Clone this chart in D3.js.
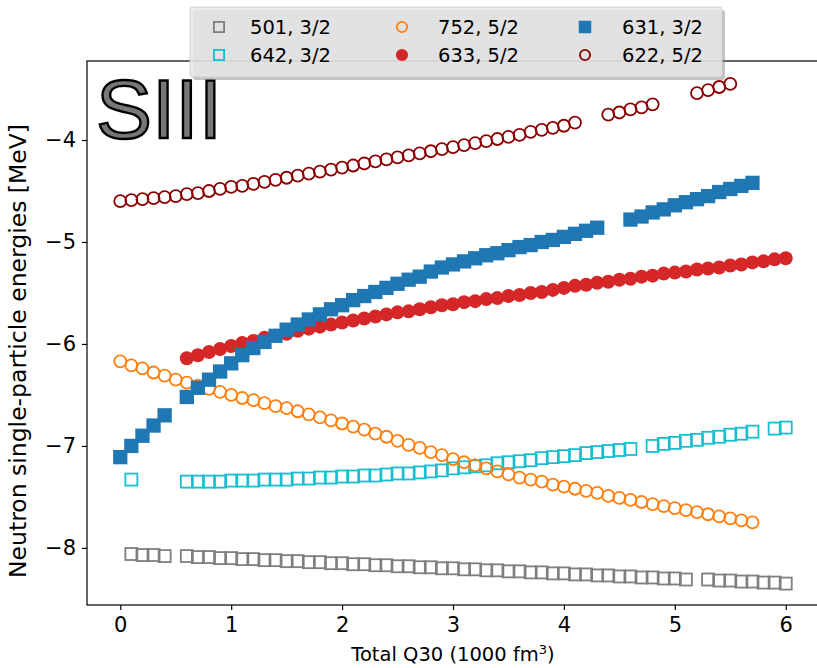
<!DOCTYPE html>
<html>
<head>
<meta charset="utf-8">
<script src="https://cdn.jsdelivr.net/npm/d3@7"></script>
<style>
  body { margin: 0; background: #fff; }
  svg { display: block; font-family: "DejaVu Sans", sans-serif; }
</style>
</head>
<body>
<div id="chart"></div>
<script>
// x grid: total Q30 in units of 1000 fm^3
const q30 = [0.0, 0.1, 0.2, 0.3, 0.4, 0.5, 0.6, 0.7, 0.8, 0.9,
    1.0, 1.1, 1.2, 1.3, 1.4, 1.5, 1.6, 1.7, 1.8, 1.9,
    2.0, 2.1, 2.2, 2.3, 2.4, 2.5, 2.6, 2.7, 2.8, 2.9,
    3.0, 3.1, 3.2, 3.3, 3.4, 3.5, 3.6, 3.7, 3.8, 3.9,
    4.0, 4.1, 4.2, 4.3, 4.4, 4.5, 4.6, 4.7, 4.8, 4.9,
    5.0, 5.1, 5.2, 5.3, 5.4, 5.5, 5.6, 5.7, 5.8, 5.9, 6.0];

// neutron levels (MeV), null = no point
const e501 = [null, -8.06, -8.07, -8.07, -8.08, null, -8.08, -8.09, -8.09, -8.10,
    -8.10, -8.11, -8.11, -8.12, -8.12, -8.13, -8.13, -8.14, -8.14, -8.15,
    -8.15, -8.16, -8.16, -8.17, -8.17, -8.18, -8.18, -8.19, -8.19, -8.20,
    -8.20, -8.21, -8.21, -8.22, -8.22, -8.23, -8.23, -8.24, -8.24, -8.25,
    -8.25, -8.26, -8.26, -8.27, -8.27, -8.28, -8.28, -8.29, -8.29, -8.30,
    -8.30, -8.31, null, -8.31, -8.32, -8.32, -8.33, -8.33, -8.34, -8.34, -8.35];
const e642 = [null, -7.33, null, null, null, null, -7.35, -7.35, -7.35, -7.35,
    -7.34, -7.34, -7.34, -7.33, -7.33, -7.33, -7.32, -7.32, -7.31, -7.31,
    -7.30, -7.30, -7.29, -7.29, -7.28, -7.27, -7.27, -7.26, -7.25, -7.24,
    -7.22, -7.21, -7.20, -7.19, -7.17, -7.16, -7.15, -7.14, -7.12, -7.11,
    -7.10, -7.09, -7.07, -7.06, -7.05, -7.04, -7.03, null, -7.00, -6.98,
    -6.97, -6.95, -6.94, -6.92, -6.91, -6.89, -6.88, -6.86, null, -6.83, -6.82];
const e752 = [-6.17, -6.21, -6.24, -6.28, -6.31, -6.35, -6.38, -6.41, -6.44, -6.47,
    -6.50, -6.53, -6.55, -6.58, -6.61, -6.63, -6.66, -6.69, -6.72, -6.75,
    -6.78, -6.81, -6.84, -6.88, -6.91, -6.95, -6.99, -7.02, -7.06, -7.09,
    -7.13, -7.16, -7.19, -7.22, -7.25, -7.28, -7.31, -7.33, -7.35, -7.38,
    -7.40, -7.42, -7.44, -7.46, -7.49, -7.51, -7.53, -7.55, -7.57, -7.59,
    -7.61, -7.63, -7.65, -7.67, -7.69, -7.71, -7.73, -7.75, null, null, null];
const e633 = [null, null, null, null, null, null, -6.14, -6.11, -6.08, -6.05,
    -6.02, -5.99, -5.97, -5.94, -5.92, -5.90, -5.87, -5.85, -5.83, -5.81,
    -5.79, -5.77, -5.75, -5.73, -5.71, -5.69, -5.68, -5.66, -5.64, -5.62,
    -5.61, -5.59, -5.58, -5.56, -5.55, -5.53, -5.52, -5.50, -5.49, -5.47,
    -5.45, -5.43, -5.42, -5.40, -5.39, -5.37, -5.36, -5.34, -5.33, -5.31,
    -5.30, -5.29, -5.27, -5.26, -5.25, -5.23, -5.22, -5.20, -5.19, -5.17, -5.16];
const e631 = [-7.11, -7.00, -6.90, -6.80, -6.70, null, -6.52, -6.43, -6.35, -6.27,
    -6.19, -6.11, -6.04, -5.98, -5.92, -5.86, -5.81, -5.76, -5.71, -5.66,
    -5.62, -5.57, -5.53, -5.49, -5.45, -5.41, -5.37, -5.34, -5.29, -5.25,
    -5.22, -5.19, -5.16, -5.13, -5.11, -5.08, -5.05, -5.03, -5.00, -4.98,
    -4.95, -4.92, -4.89, -4.86, null, null, -4.78, -4.75, -4.71, -4.68,
    -4.64, -4.61, -4.58, -4.55, -4.51, -4.48, -4.45, -4.42, null, null, null];
const e622 = [-4.60, -4.59, -4.58, -4.57, -4.56, -4.55, -4.53, -4.52, -4.50, -4.48,
    -4.46, -4.45, -4.43, -4.41, -4.39, -4.37, -4.35, -4.33, -4.31, -4.29,
    -4.27, -4.25, -4.23, -4.21, -4.19, -4.17, -4.15, -4.13, -4.11, -4.09,
    -4.07, -4.05, -4.03, -4.01, -3.99, -3.97, -3.95, -3.92, -3.90, -3.88,
    -3.86, -3.83, null, null, -3.75, -3.73, -3.70, -3.68, -3.65, null,
    null, null, -3.54, -3.51, -3.48, -3.45, null, null, null, null, null];

const labels = ["501, 3/2", "642, 3/2", "752, 5/2", "633, 5/2", "631, 3/2", "622, 5/2"];
const xTicks = [0, 1, 2, 3, 4, 5, 6];
const yTicks = [-8, -7, -6, -5, -4];

// series in plotting order (legend fills column by column)
const series = [
    { label: labels[0], values: e501, shape: "square", color: "#7f7f7f", filled: false },
    { label: labels[1], values: e642, shape: "square", color: "#17becf", filled: false },
    { label: labels[2], values: e752, shape: "circle", color: "#ff7f0e", filled: false },
    { label: labels[3], values: e633, shape: "circle", color: "#d62728", filled: true },
    { label: labels[4], values: e631, shape: "square", color: "#1f77b4", filled: true },
    { label: labels[5], values: e622, shape: "circle", color: "#8b0000", filled: false }
];

const width = 817, height = 668;
const plot = { left: 87, right: 819, top: 61, bottom: 605 };

const svg = d3.select("#chart").append("svg")
    .attr("width", width)
    .attr("height", height);

const x = d3.scaleLinear().domain([-0.3, 6.3]).range([plot.left, plot.right]);
const y = d3.scaleLinear().domain([-8.56, -3.225]).range([plot.bottom, plot.top]);

const clipId = "plotclip";
svg.append("clipPath").attr("id", clipId)
    .append("rect")
    .attr("x", plot.left).attr("y", plot.top)
    .attr("width", plot.right - plot.left).attr("height", plot.bottom - plot.top);

// draw a marker into a selection
function marker(g, d, size) {
    const sw = d.filled ? 0 : 1.8;
    if (d.shape === "square") {
        const s = d.filled ? size + 1.5 : size - 0.8;
        g.append("rect")
            .attr("x", -s / 2).attr("y", -s / 2)
            .attr("width", s).attr("height", s)
            .attr("fill", d.filled ? d.color : "none")
            .attr("stroke", d.color)
            .attr("stroke-width", sw);
    } else {
        const r = d.filled ? size / 2 + 0.6 : size / 2 - 0.4;
        g.append("circle")
            .attr("r", r)
            .attr("fill", d.filled ? d.color : "none")
            .attr("stroke", d.color)
            .attr("stroke-width", sw);
    }
}

// SIII label
svg.append("text")
    .attr("x", 96)
    .attr("y", 138)
    .attr("font-family", "Liberation Sans, Arial, sans-serif")
    .attr("font-size", 84)
    .attr("fill", "#777")
    .attr("stroke", "#000")
    .attr("stroke-width", 2.4)
    .text("SIII");

// points
const pts = svg.append("g").attr("clip-path", `url(#${clipId})`);
series.forEach(s => {
    const gs = pts.append("g");
    q30.forEach((q, i) => {
        const v = s.values[i];
        if (v === null) return;
        const g = gs.append("g").attr("transform", `translate(${x(q)},${y(v)})`);
        marker(g, s, 12.8);
    });
});

// axes
const xAxis = svg.append("g")
    .attr("transform", `translate(0,${plot.bottom})`)
    .call(d3.axisBottom(x).tickValues(xTicks).tickFormat(d3.format("d")).tickSize(5).tickPadding(7));
const yAxis = svg.append("g")
    .attr("transform", `translate(${plot.left},0)`)
    .call(d3.axisLeft(y).tickValues(yTicks).tickFormat(d3.format("d")).tickSize(5).tickPadding(6));

[xAxis, yAxis].forEach(a => {
    a.select(".domain").remove();
    a.selectAll("line").attr("stroke", "#000").attr("stroke-width", 1.2);
    a.selectAll("text").attr("font-size", 21).attr("fill", "#000")
        .attr("font-family", "DejaVu Sans, sans-serif");
});

// frame
svg.append("rect")
    .attr("x", plot.left).attr("y", plot.top)
    .attr("width", plot.right - plot.left).attr("height", plot.bottom - plot.top)
    .attr("fill", "none").attr("stroke", "#000").attr("stroke-width", 1.2);

// axis titles
const xt = svg.append("text")
    .attr("x", (plot.left + plot.right) / 2)
    .attr("y", 661)
    .attr("text-anchor", "middle")
    .attr("font-size", 19.5);
xt.append("tspan").text("Total Q30 (1000 fm");
xt.append("tspan").attr("baseline-shift", "super").attr("font-size", 13).text("3");
xt.append("tspan").text(")");

svg.append("text")
    .attr("transform", `translate(26,${(plot.top + plot.bottom) / 2 + 18}) rotate(-90)`)
    .attr("text-anchor", "middle")
    .attr("font-size", 23.5)
    .text("Neutron single-particle energies [MeV]");

// legend
const lg = svg.append("g");
lg.append("rect")
    .attr("x", 193).attr("y", 10).attr("width", 532).attr("height", 70)
    .attr("rx", 3)
    .attr("fill", "#888").attr("opacity", 0.5);
lg.append("rect")
    .attr("x", 190).attr("y", 7).attr("width", 532).attr("height", 70)
    .attr("rx", 3)
    .attr("fill", "#e8e8e8").attr("fill-opacity", 0.85)
    .attr("stroke", "#d0d0d0");

const colX = [219, 402, 585];
const textX = [250, 438, 622];
const rowY = [27, 55];
series.forEach((s, i) => {
    const c = Math.floor(i / 2), r = i % 2;
    const g = lg.append("g").attr("transform", `translate(${colX[c]},${rowY[r]})`);
    marker(g, s, 11);
    lg.append("text")
        .attr("x", textX[c])
        .attr("y", rowY[r])
        .attr("dy", "0.35em")
        .attr("font-size", 19.5)
        .attr("fill", "#000")
        .text(s.label);
});
</script>
</body>
</html>
